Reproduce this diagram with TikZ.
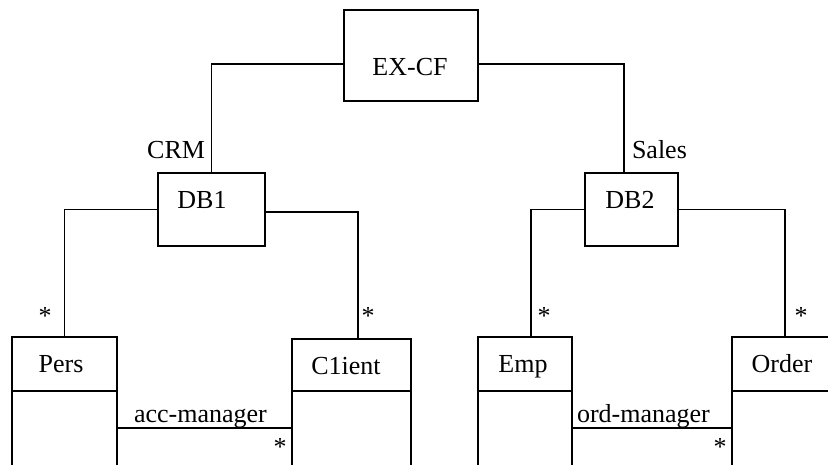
\documentclass[tikz,border=0pt]{standalone}
\usepackage{fontspec}
\setmainfont{Liberation Serif}
\usetikzlibrary{calc}
\begin{document}
\begin{tikzpicture}[x=1pt,y=-1pt,
  every node/.style={font=\fontsize{26}{30}\selectfont, inner sep=0pt, outer sep=0pt},
  box/.style={draw, line width=1.2pt},
  hidden/.style={draw=none},
  ln/.style={line width=1.2pt},
  lbl/.style={anchor=base}
]
\useasboundingbox (0,0) rectangle (828,465);
\coordinate (bot) at (0,465);
\coordinate (right) at (828,0);
\coordinate (assoc) at (0,428);

% boxes
\node[box, minimum width=134pt, minimum height=91pt] (excf) at (411,55.5) {};
\node[box, minimum width=107pt, minimum height=73pt] (db1) at (211.5,209.5) {};
\node[box, minimum width=93pt, minimum height=73pt] (db2) at (631.5,209.5) {};
\node[box, minimum width=105pt, minimum height=54pt] (pers) at (64.5,364) {};
\node[box, minimum width=119pt, minimum height=52pt] (client) at (351.5,365) {};
\node[box, minimum width=94pt, minimum height=54pt] (emp) at (525,364) {};
\node[hidden, minimum width=100pt, minimum height=54pt] (order) at (782,364) {};

% box texts
\node[lbl] (excft) at (410,76) {EX-CF};
\node[lbl] (db1t) at (202,209) {DB1};
\node[lbl] (db2t) at (630,209) {DB2};
\node[lbl] (perst) at (61,372) {Pers};
\node[lbl] (clientt) at (346,374) {C1ient};
\node[lbl] (empt) at (523,372) {Emp};
\node[lbl] (ordert) at (782,372) {Order};

% order box (cut by the picture edge)
\draw[ln] (order.south west |- bot) -- (order.north west) -- (order.north west -| right);
\draw[ln] (order.south west) -- (order.south west -| right);

% open lower compartments
\draw[ln] (pers.south west) -- (pers.south west |- bot);
\draw[ln] (pers.south east) -- (pers.south east |- bot);
\draw[ln] (client.south west) -- (client.south west |- bot);
\draw[ln] (client.south east) -- (client.south east |- bot);
\draw[ln] (emp.south west) -- (emp.south west |- bot);
\draw[ln] (emp.south east) -- (emp.south east |- bot);

% tree connectors
\draw[ln] ($(excf.west)+(0,8.5)$) -| (db1.north);
\draw[ln] ($(excf.east)+(0,8.5)$) -| ($(db2.north)+(-7.5,0)$);
\draw[ln] (db1.west) -| (pers.north);
\draw[ln] ($(db1.east)+(0,2.5)$) -| ($(client.north)+(6.5,0)$);
\draw[ln] (db2.west) -| ($(emp.north)+(6,0)$);
\draw[ln] (db2.east) -| ($(order.north)+(3,0)$);

% associations
\draw[ln] (pers.south east |- assoc) -- (client.south west |- assoc);
\draw[ln] (emp.south east |- assoc) -- (order.south west |- assoc);

% labels
\node[anchor=base east] (crm) at (205,159) {CRM};
\node[anchor=base west] (sales) at (632,159) {Sales};
\node[anchor=base west] (acc) at (134,422) {acc-manager};
\node[anchor=base west] (ord) at (577,422) {ord-manager};

% multiplicities
\node[lbl] (s1) at (45,325) {*};
\node[lbl] (s2) at (368,325) {*};
\node[lbl] (s3) at (544,325) {*};
\node[lbl] (s4) at (801,325) {*};
\node[lbl] (s5) at (280,455) {*};
\node[lbl] (s6) at (720,455) {*};
\end{tikzpicture}
\end{document}
